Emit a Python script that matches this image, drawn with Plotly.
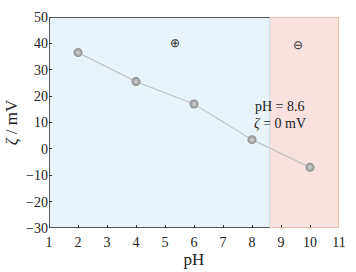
import plotly.graph_objects as go

ph = [2, 4, 6, 8, 10]
zeta = [36.5, 25.5, 17, 3.5, -7]
x_ticks = list(range(1, 12))
y_ticks = list(range(-30, 51, 10))
iep = 8.6

font = "Liberation Serif"

fig = go.Figure()
fig.add_shape(type="rect", xref="x", yref="y", x0=1, x1=iep, y0=-30, y1=50,
              fillcolor="#e8f4fa", line=dict(width=0), layer="below")
fig.add_shape(type="rect", xref="x", yref="y", x0=iep, x1=11, y0=-30, y1=50,
              fillcolor="#f9e1e0", line=dict(width=0), layer="below")
# frame
fig.add_shape(type="line", xref="x", yref="y", x0=iep, x1=iep, y0=-30, y1=50,
              line=dict(color="#c6dde6", width=1))
fig.add_shape(type="path", xref="x", yref="y",
              path=f"M {iep},50 L 11,50 L 11,-30 L {iep},-30",
              line=dict(color="#e3b49c", width=1.5))
fig.add_shape(type="path", xref="x", yref="y",
              path=f"M {iep},50 L 1,50 L 1,-30 L {iep},-30",
              line=dict(color="#222222", width=1.5))

fig.add_trace(go.Scatter(
    x=ph, y=zeta, mode="lines+markers",
    line=dict(color="#c4c4c4", width=1.2),
    marker=dict(size=9, color="#8a8a8a",
                gradient=dict(type="radial", color="#d6d6d6"),
                line=dict(width=0)),
    showlegend=False, hoverinfo="skip"))

fig.add_annotation(x=5.36, y=40, text="⊕", showarrow=False, font=dict(size=12, color="#333"))
fig.add_annotation(x=9.58, y=39.2, text="⊖", showarrow=False, font=dict(size=12, color="#333"))
fig.add_annotation(x=8.95, y=16, text="pH = 8.6", showarrow=False, font=dict(size=14, color="#222"))
fig.add_annotation(x=8.95, y=9.5, text="<i>ζ</i> = 0 mV", showarrow=False, font=dict(size=14, color="#222"))

fig.update_layout(
    width=356, height=272,
    margin=dict(l=48, r=12, t=10, b=41),
    paper_bgcolor="white", plot_bgcolor="white",
    font=dict(family=font, size=14, color="#222"),
    xaxis=dict(range=[1, 11], tickvals=x_ticks, ticks="inside", ticklen=3, tickcolor="#333",
               showgrid=False, zeroline=False, showline=False, ticklabelstandoff=4,
               title=dict(text="pH", standoff=0), tickfont=dict(size=14)),
    yaxis=dict(range=[-30, 50], tickvals=y_ticks, ticks="inside", ticklen=3, tickcolor="#333",
               showgrid=False, zeroline=False, showline=False,
               title=dict(text="<i>ζ</i> / mV", standoff=4), tickfont=dict(size=14),
               tickformat="d"),
)
fig.write_html("out.html", config={"displayModeBar": False},
               post_script="document.body.style.margin='0';")
